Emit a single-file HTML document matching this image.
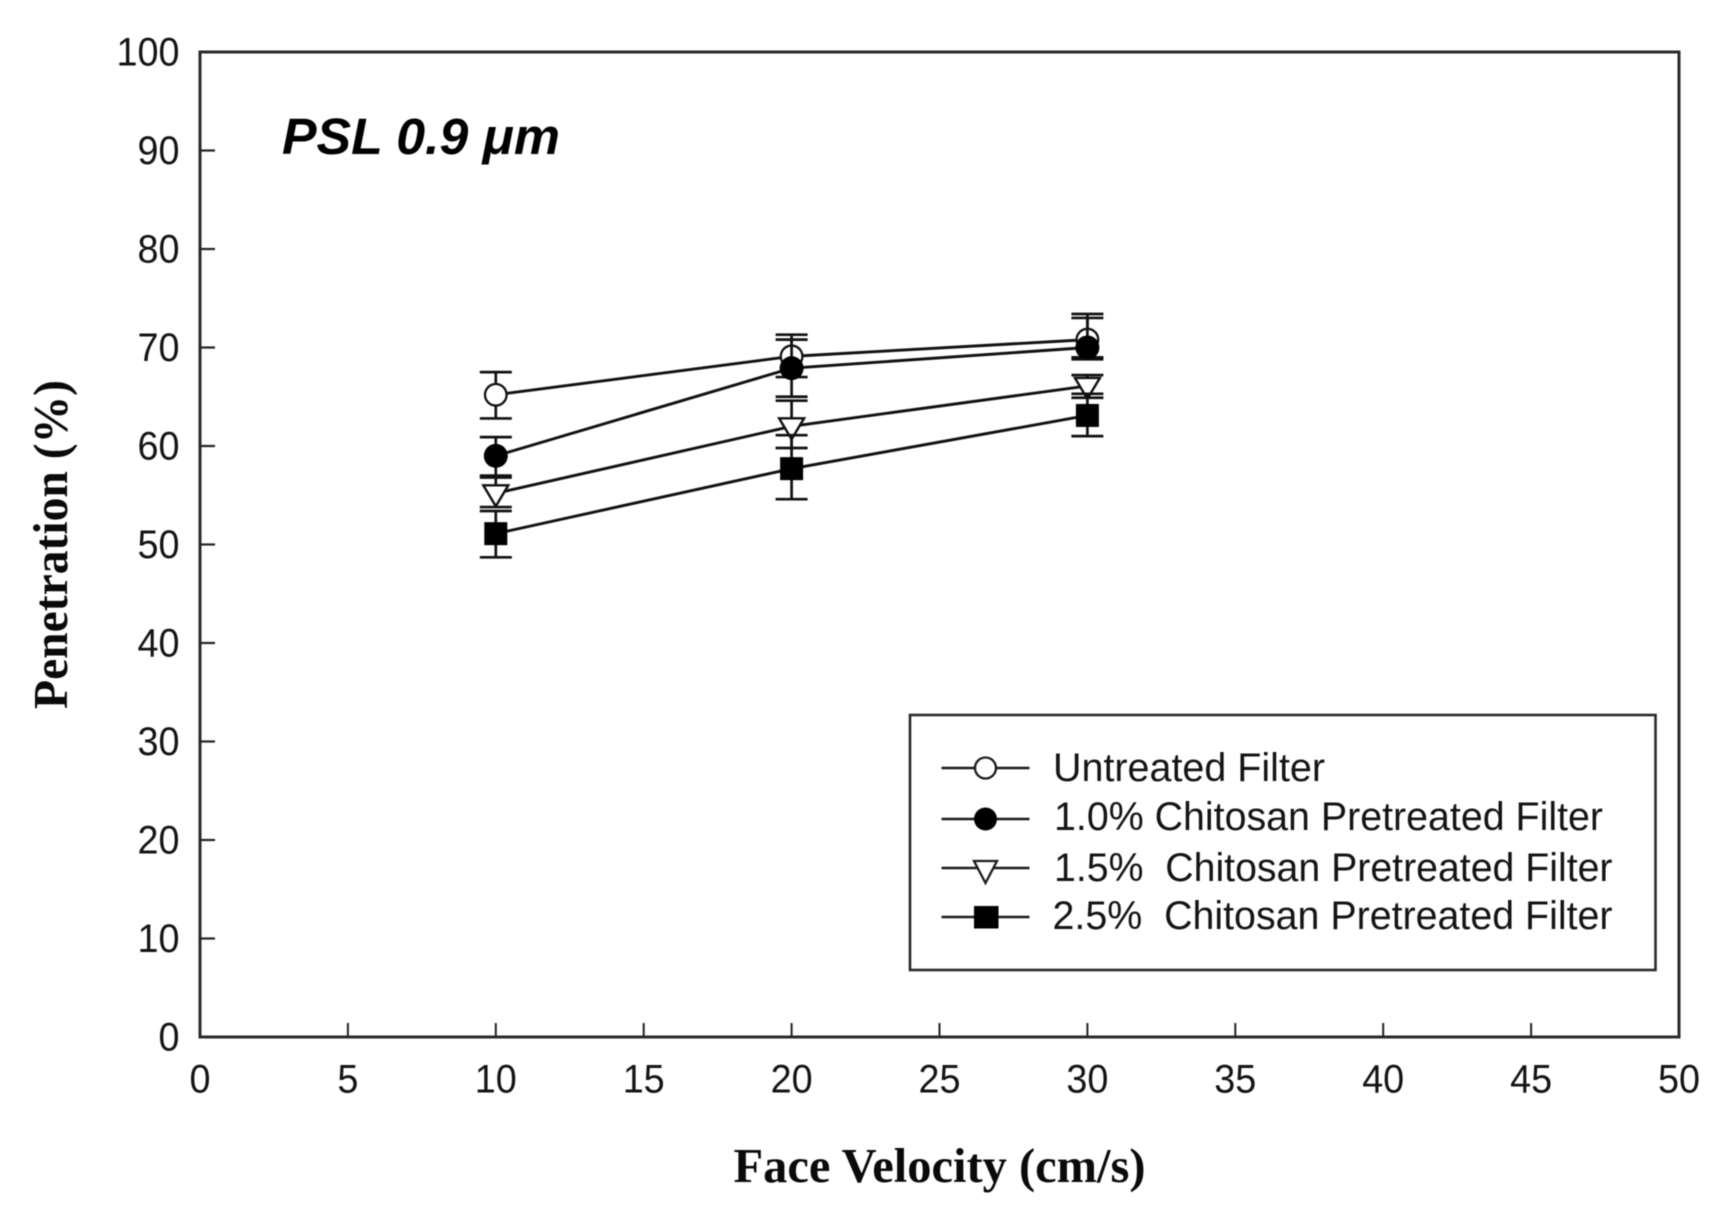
<!DOCTYPE html>
<html lang="en">
<head>
<meta charset="utf-8">
<title>Penetration vs Face Velocity</title>
<style>
html,body{margin:0;padding:0;background:#fff;}
svg{display:block;filter:blur(0.6px);}
text{white-space:pre;}
.tick{font-family:"Liberation Sans",sans-serif;font-size:40px;fill:#141414;}
.leg{font-family:"Liberation Sans",sans-serif;font-size:39.5px;fill:#141414;}
.axt{font-family:"Liberation Serif",serif;font-size:48.5px;font-weight:bold;fill:#0a0a0a;}
</style>
</head>
<body>
<svg id="chart" xmlns="http://www.w3.org/2000/svg" width="1722" height="1212" viewBox="0 0 1722 1212">
  <rect x="0" y="0" width="1722" height="1212" fill="#fff"/>
  <rect x="200" y="52" width="1479" height="985" fill="none" stroke="#2a2a2a" stroke-width="3"/>
  <g id="axes"></g>
  <g id="series"></g>
  <text x="282" y="154" font-family="'Liberation Sans',sans-serif" font-size="51" font-weight="bold" font-style="italic" fill="#000" textLength="278" lengthAdjust="spacingAndGlyphs">PSL 0.9 μm</text>
  <text class="axt" x="733.5" y="1182" textLength="412" lengthAdjust="spacingAndGlyphs">Face Velocity (cm/s)</text>
  <text class="axt" transform="translate(67,709) rotate(-90)" x="0" y="0" textLength="329" lengthAdjust="spacingAndGlyphs">Penetration (%)</text>

  <g>
    <rect x="910" y="715" width="745.5" height="255" fill="#fff" stroke="#2a2a2a" stroke-width="2.6"/>
    <g>
      <line x1="941.5" x2="1029.5" y1="768" y2="768" stroke="#1c1c1c" stroke-width="2.6"/>
      <circle cx="985.5" cy="768" r="10.5" fill="#fff" stroke="#1c1c1c" stroke-width="2.3"/>
      <text class="leg" x="1053" y="781" textLength="272" lengthAdjust="spacingAndGlyphs">Untreated Filter</text>
    </g>
    <g>
      <line x1="941.5" x2="1029.5" y1="819" y2="819" stroke="#1c1c1c" stroke-width="2.6"/>
      <circle cx="985.5" cy="819" r="11.5" fill="#000"/>
      <text class="leg" x="1054" y="830" textLength="549" lengthAdjust="spacingAndGlyphs">1.0% Chitosan Pretreated Filter</text>
    </g>
    <g>
      <line x1="941.5" x2="1029.5" y1="868" y2="868" stroke="#1c1c1c" stroke-width="2.6"/>
      <polygon points="974,861 997,861 985.5,883" fill="#fff" stroke="#1c1c1c" stroke-width="2.3"/>
      <text class="leg" x="1054" y="881" textLength="558.5" lengthAdjust="spacingAndGlyphs">1.5%  Chitosan Pretreated Filter</text>
    </g>
    <g>
      <line x1="941.5" x2="1029.5" y1="917" y2="917" stroke="#1c1c1c" stroke-width="2.6"/>
      <rect x="974" y="906" width="24.5" height="22.5" fill="#000"/>
      <text class="leg" x="1052.5" y="929" textLength="560" lengthAdjust="spacingAndGlyphs">2.5%  Chitosan Pretreated Filter</text>
    </g>
  </g>
</svg>
<script>
// Chart data
const xTickValues = [0, 5, 10, 15, 20, 25, 30, 35, 40, 45, 50];
const yTickValues = [0, 10, 20, 30, 40, 50, 60, 70, 80, 90, 100];
const faceVelocity = [10, 20, 30];

const untreatedValues = [65.2, 69.1, 70.8];
const untreatedUpper = [67.5, 71.3, 73.4];
const untreatedLower = [62.8, 67.0, 68.8];

const chitosan10Values = [59.0, 67.9, 70.0];
const chitosan10Upper = [60.9, 70.8, 73.0];
const chitosan10Lower = [56.8, 65.0, 69.0];

const chitosan15Values = [55.2, 62.0, 66.1];
const chitosan15Upper = [57.0, 64.6, 67.2];
const chitosan15Lower = [53.8, 59.8, 64.9];

const chitosan25Values = [51.1, 57.7, 63.1];
const chitosan25Upper = [53.4, 61.1, 65.3];
const chitosan25Lower = [48.7, 54.6, 61.0];

// Axis functions
const plotLeft = 200, plotWidth = 1479, plotBottom = 1037, plotHeight = 985;
const xMax = 50, yMax = 100;
function xScale(v) { return plotLeft + (v / xMax) * plotWidth; }
function yScale(v) { return plotBottom - (v / yMax) * plotHeight; }

const NS = 'http://www.w3.org/2000/svg';
function svgEl(tag, attrs, name, parent) {
  const el = document.createElementNS(NS, tag);
  for (const k in attrs) el.setAttribute(k, attrs[k]);
  
  
  parent.appendChild(el);
  return el;
}
const digitWidth = 21;

// Axes: ticks and tick labels
const axes = document.getElementById('axes');
xTickValues.forEach(function (v) {
  const x = xScale(v);
  if (v > 0 && v < xMax) {
    svgEl('line', { x1: x, x2: x, y1: plotBottom, y2: plotBottom - 14, stroke: '#222', 'stroke-width': 2 }, 'x-tick-' + v, axes);
  }
  const label = String(v);
  const t = svgEl('text', { x: x, y: 1092.5, 'text-anchor': 'middle', class: 'tick', textLength: label.length * digitWidth, lengthAdjust: 'spacingAndGlyphs' }, 'x-tick-label-' + v, axes);
  t.textContent = label;
});
yTickValues.forEach(function (v) {
  const y = yScale(v);
  if (v > 0 && v < yMax) {
    svgEl('line', { x1: plotLeft, x2: plotLeft + 15, y1: y, y2: y, stroke: '#222', 'stroke-width': 2.2 }, 'y-tick-' + v, axes);
  }
  const label = String(v);
  const t = svgEl('text', { x: 179.5, y: y + 13.5, 'text-anchor': 'end', class: 'tick', textLength: label.length * digitWidth, lengthAdjust: 'spacingAndGlyphs' }, 'y-tick-label-' + v, axes);
  t.textContent = label;
});

// Series
const seriesGroup = document.getElementById('series');
function drawMarker(kind, cx, cy, name, parent) {
  if (kind === 'open-circle') {
    svgEl('circle', { cx: cx, cy: cy, r: 10.8, fill: '#fff', stroke: '#111', 'stroke-width': 2.3 }, name, parent);
  } else if (kind === 'filled-circle') {
    svgEl('circle', { cx: cx, cy: cy, r: 12, fill: '#000' }, name, parent);
  } else if (kind === 'open-triangle') {
    const pts = (cx - 12.5) + ',' + (cy - 8) + ' ' + (cx + 12.5) + ',' + (cy - 8) + ' ' + cx + ',' + (cy + 13);
    svgEl('polygon', { points: pts, fill: '#fff', stroke: '#111', 'stroke-width': 2.4 }, name, parent);
  } else {
    svgEl('rect', { x: cx - 11.5, y: cy - 11.5, width: 23, height: 23, fill: '#000' }, name, parent);
  }
}
function drawSeries(id, kind, values, upper, lower) {
  const g = svgEl('g', {}, 'series-' + id, seriesGroup);
  const pts = faceVelocity.map(function (xv, i) { return xScale(xv) + ',' + yScale(values[i]); }).join(' ');
  svgEl('polyline', { points: pts, fill: 'none', stroke: '#111', 'stroke-width': 2.9 }, 'line-' + id, g);
  faceVelocity.forEach(function (xv, i) {
    const x = xScale(xv), yu = yScale(upper[i]), yl = yScale(lower[i]);
    const s = { stroke: '#111', 'stroke-width': 2.7 };
    svgEl('line', Object.assign({ x1: x, x2: x, y1: yu, y2: yl }, s), 'error-bar-' + id + '-' + xv, g);
    svgEl('line', Object.assign({ x1: x - 16, x2: x + 16, y1: yu, y2: yu }, s), 'error-cap-upper-' + id + '-' + xv, g);
    svgEl('line', Object.assign({ x1: x - 16, x2: x + 16, y1: yl, y2: yl }, s), 'error-cap-lower-' + id + '-' + xv, g);
  });
  faceVelocity.forEach(function (xv, i) {
    drawMarker(kind, xScale(xv), yScale(values[i]), 'marker-' + id + '-' + xv, g);
  });
}
drawSeries('untreated', 'open-circle', untreatedValues, untreatedUpper, untreatedLower);
drawSeries('chitosan-1-0', 'filled-circle', chitosan10Values, chitosan10Upper, chitosan10Lower);
drawSeries('chitosan-1-5', 'open-triangle', chitosan15Values, chitosan15Upper, chitosan15Lower);
drawSeries('chitosan-2-5', 'filled-square', chitosan25Values, chitosan25Upper, chitosan25Lower);
</script>
</body>
</html>
